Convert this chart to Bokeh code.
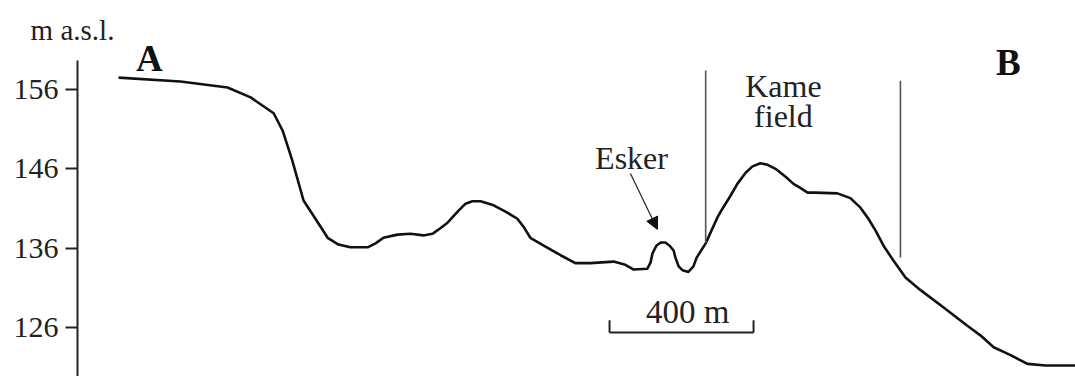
from bokeh.plotting import figure
from bokeh.models import Range1d, FixedTicker, Arrow, NormalHead, ColumnDataSource, LinearAxis
from bokeh.core.properties import value
from bokeh.embed import file_html
from bokeh.resources import INLINE

# Profile A-B: distance along profile (m) and elevation (m a.s.l.)
distance = [0, 172, 303, 367, 431, 456, 483, 514, 547, 581, 611, 644, 692, 714, 736, 775,
            811, 847, 872, 894, 914, 928, 944, 964, 983, 1006, 1042, 1075, 1108, 1125, 1144,
            1186, 1228, 1269, 1311, 1375, 1408, 1431, 1469, 1478, 1483, 1494, 1506, 1519,
            1531, 1542, 1547, 1556, 1567, 1583, 1597, 1606, 1631, 1647, 1664, 1678, 1700,
            1719, 1742, 1761, 1783, 1803, 1825, 1853, 1875, 1894, 1914, 1936, 1997, 2033,
            2061, 2083, 2103, 2125, 2153, 2186, 2228, 2292, 2358, 2394, 2431, 2478, 2525,
            2575, 2658]
elevation = [157.5, 157.0, 156.25, 155.0, 153.0, 150.8, 147.0, 142.0, 139.7, 137.3, 136.45,
             136.1, 136.1, 136.6, 137.3, 137.7, 137.8, 137.6, 137.8, 138.5, 139.2, 139.9,
             140.7, 141.6, 141.9, 141.9, 141.4, 140.6, 139.7, 138.7, 137.3, 136.2, 135.1,
             134.1, 134.1, 134.3, 133.9, 133.3, 133.4, 134.2, 135.3, 136.3, 136.7, 136.7,
             136.3, 135.7, 134.8, 133.7, 133.2, 133.0, 133.7, 134.8, 136.6, 138.2, 139.9,
             141.0, 142.6, 144.1, 145.5, 146.3, 146.7, 146.5, 146.0, 145.0, 144.1, 143.6,
             143.0, 143.0, 142.9, 142.3, 141.1, 139.7, 138.2, 136.3, 134.4, 132.3, 130.7,
             128.5, 126.2, 125.0, 123.5, 122.5, 121.4, 121.2, 121.2]

y_ticks = [126, 136, 146, 156]

# Kame field boundaries
kame_x = [1631, 2172]
kame_top = [158.4, 157.1]
kame_bottom = [136.6, 134.8]

# Scale bar
scale_start = 1364
scale_length = 400
scale_label = "400 m"

SERIF = "Liberation Serif"

X0, X1 = -327.8, 2658.3
Y0, Y1 = 119.81, 167.22
AXIS_X = -113.9

p = figure(width=1075, height=376, output_backend="svg", toolbar_location=None,
           x_range=Range1d(X0, X1), y_range=Range1d(Y0, Y1),
           x_axis_location=None, y_axis_location=None,
           min_border=0, min_border_left=0, min_border_right=0, min_border_top=0,
           min_border_bottom=0, background_fill_color="white", border_fill_color="white")
p.outline_line_color = None
p.grid.visible = False

ax = LinearAxis(fixed_location=AXIS_X)
ax.ticker = FixedTicker(ticks=y_ticks)
ax.bounds = (Y0, 159.66)
ax.axis_line_width = 2
ax.axis_line_color = "#222222"
ax.major_tick_line_width = 2
ax.major_tick_line_color = "#222222"
ax.major_tick_out = 12
ax.major_tick_in = 0
ax.minor_tick_line_color = None
ax.major_label_standoff = 7
ax.major_label_text_font = SERIF
ax.major_label_text_font_size = "30px"
ax.major_label_text_color = "#222222"
p.add_layout(ax, "left")

# Profile
p.line(distance, elevation, line_color="#111111", line_width=2.6)

# Kame field boundary lines
p.segment(x0=kame_x, y0=kame_bottom, x1=kame_x, y1=kame_top, line_color="#555555", line_width=1.6)

# Scale bar
p.segment(x0=[scale_start, scale_start, scale_start + scale_length],
          y0=[125.35, 125.35, 125.35],
          x1=[scale_start + scale_length, scale_start, scale_start + scale_length],
          y1=[125.35, 126.9, 126.9], line_color="#222222", line_width=2)

# Texts
txt = ColumnDataSource(dict(
    x=[1425, 1847, 1847, scale_start + scale_length / 2 + 17, -127.8],
    y=[147.4, 156.4, 152.7, 128.0, 163.44],
    t=["Esker", "Kame", "field", scale_label, "m a.s.l."],
    s=["32px", "32px", "32px", "33px", "29px"],
))
p.text(x="x", y="y", text="t", source=txt, text_font=value(SERIF), text_font_size="s",
       text_align="center", text_baseline="middle", text_color="#222222")

p.text(x=[86, 2472], y=[159.9, 159.4], text=["A", "B"], text_font=value(SERIF),
       text_font_size="37px", text_font_style="bold", text_align="center",
       text_baseline="middle", text_color="#111111")

p.add_layout(Arrow(x_start=1422, y_start=145.4, x_end=1497, y_end=138.35,
                   line_color="#222222", line_width=1.2,
                   end=NormalHead(size=12, fill_color="#111111", line_color="#111111")))

open("out.html", "w").write(file_html(p, INLINE))
